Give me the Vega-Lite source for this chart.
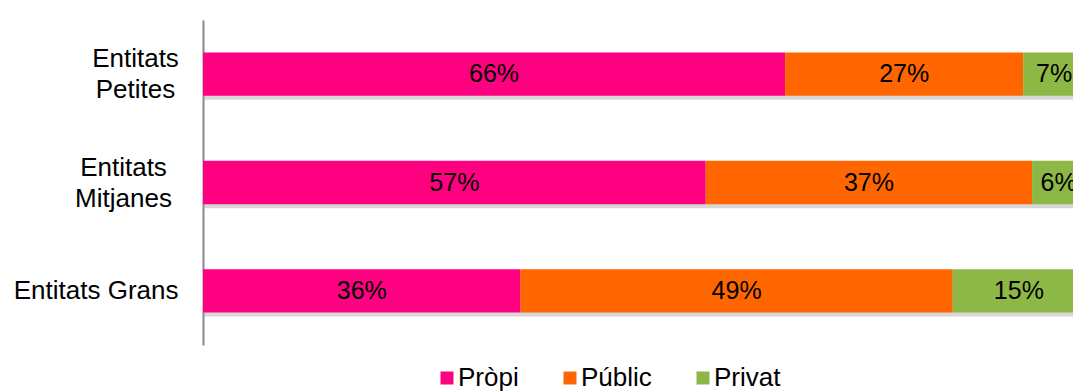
{
  "$schema": "https://vega.github.io/schema/vega-lite/v6.json",
  "width": 870,
  "height": 325,
  "autosize": "none",
  "padding": {"left": 203, "top": 20, "right": 0, "bottom": 46},
  "config": {
    "view": {"stroke": null},
    "font": "Liberation Sans"
  },
  "data": {
    "values": [
      {"entitat": "Entitats Petites", "font": "Pròpi", "pct": 66},
      {"entitat": "Entitats Petites", "font": "Públic", "pct": 27},
      {"entitat": "Entitats Petites", "font": "Privat", "pct": 7},
      {"entitat": "Entitats Mitjanes", "font": "Pròpi", "pct": 57},
      {"entitat": "Entitats Mitjanes", "font": "Públic", "pct": 37},
      {"entitat": "Entitats Mitjanes", "font": "Privat", "pct": 6},
      {"entitat": "Entitats Grans", "font": "Pròpi", "pct": 36},
      {"entitat": "Entitats Grans", "font": "Públic", "pct": 49},
      {"entitat": "Entitats Grans", "font": "Privat", "pct": 15}
    ]
  },
  "transform": [
    {"calculate": "indexof(['Pròpi','Públic','Privat'], datum.font)", "as": "ord"},
    {"stack": "pct", "groupby": ["entitat"], "sort": [{"field": "ord", "order": "ascending"}], "as": ["v0", "v1"]},
    {"calculate": "(datum.v0 + datum.v1) / 2", "as": "mid"},
    {"calculate": "datum.pct + '%'", "as": "label"}
  ],
  "encoding": {
    "y": {
      "field": "entitat",
      "type": "nominal",
      "sort": ["Entitats Petites", "Entitats Mitjanes", "Entitats Grans"],
      "scale": {"paddingInner": 0.6, "paddingOuter": 0.3},
      "axis": {
        "title": null,
        "ticks": false,
        "domainColor": "#888888",
        "domainWidth": 2,
        "labelFontSize": 26,
        "labelColor": "#000000",
        "labelLineHeight": 31,
        "labelAlign": {"condition": {"test": "datum.value == 'Entitats Grans'", "value": "right"}, "value": "center"},
        "labelPadding": {"condition": [
          {"test": "datum.value == 'Entitats Grans'", "value": 25},
          {"test": "datum.value == 'Entitats Petites'", "value": 68}
        ], "value": 80},
        "labelOffset": {"condition": {"test": "datum.value == 'Entitats Grans'", "value": 0}, "value": -15},
        "labelExpr": "datum.value == 'Entitats Petites' ? ['Entitats', 'Petites'] : datum.value == 'Entitats Mitjanes' ? ['Entitats', 'Mitjanes'] : datum.value"
      }
    }
  },
  "layer": [
    {
      "mark": {"type": "bar", "color": "#9a9a9a", "opacity": 0.4, "yOffset": 4, "clip": true},
      "encoding": {
        "x": {"field": "v0", "type": "quantitative", "scale": {"domain": [0, 98.64], "nice": false, "zero": false}, "axis": null},
        "x2": {"field": "v1"}
      }
    },
    {
      "mark": {"type": "bar", "clip": true},
      "encoding": {
        "x": {"field": "v0", "type": "quantitative", "scale": {"domain": [0, 98.64], "nice": false, "zero": false}, "axis": null},
        "x2": {"field": "v1"},
        "color": {
          "field": "font",
          "type": "nominal",
          "sort": ["Pròpi", "Públic", "Privat"],
          "scale": {"domain": ["Pròpi", "Públic", "Privat"], "range": ["#FF0080", "#FF6600", "#8EB845"]},
          "legend": {
            "title": null,
            "orient": "none",
            "direction": "horizontal",
            "legendX": 231,
            "legendY": 345,
            "symbolType": "square",
            "symbolSize": 169,
            "symbolStrokeWidth": 0,
            "symbolOpacity": 1,
            "labelFontSize": 26,
            "labelColor": "#000000",
            "labelOffset": -2,
            "columnPadding": 38
          }
        }
      }
    },
    {
      "mark": {"type": "text", "fontSize": 25, "color": "#000000", "align": "center", "baseline": "middle"},
      "encoding": {
        "x": {"field": "mid", "type": "quantitative"},
        "text": {"field": "label", "type": "nominal"}
      }
    }
  ]
}
